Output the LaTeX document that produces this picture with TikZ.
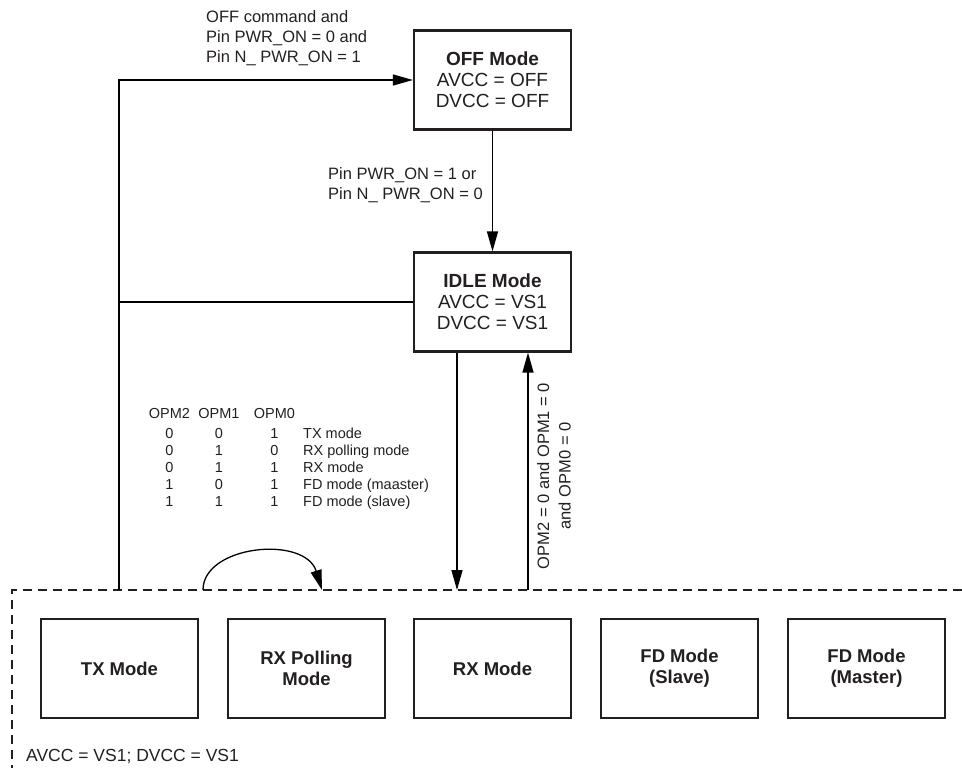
\documentclass[tikz,border=0pt]{standalone}
\usepackage{fontspec}
\setmainfont{Liberation Sans}
\usetikzlibrary{arrows.meta}
\definecolor{ink}{HTML}{231F20}
\begin{document}
\begin{tikzpicture}[x=1pt,y=-1pt,
  modebox/.style={draw=ink, line width=2.2pt, minimum width=157pt, minimum height=99pt, inner sep=0pt, align=center, text=ink, font=\fontsize{19}{21}\selectfont},
  subbox/.style={draw=ink, line width=2.2pt, minimum width=157pt, minimum height=99pt, inner sep=0pt, align=center, text=ink, font=\fontsize{18.5}{21}\selectfont\bfseries},
  conn/.style={line width=1.3pt, draw=black},
  arr/.style={conn, -{Triangle[length=20pt,width=11pt]}},
  lbl/.style={font=\fontsize{16.5}{20}\selectfont, align=left, inner sep=0pt, text=ink},
  tbl/.style={font=\fontsize{14.5}{17}\selectfont, inner sep=0pt, anchor=north, align=center, text=ink},
  frame/.style={line width=1.4pt, draw=ink, dash pattern=on 9pt off 6pt}
]
\useasboundingbox (0,0) rectangle (962,768);

% top mode boxes
\node[modebox] (off) at (492.5,80) {\textbf{OFF Mode}\\AVCC = OFF\\DVCC = OFF};
\node[modebox] (idle) at (492.5,302) {\textbf{IDLE Mode}\\AVCC = VS1\\DVCC = VS1};

% dashed frame
\coordinate (fr) at (962,590);
\coordinate (fc) at (12,590);
\coordinate (fb) at (12,768);
\draw[frame] (fr) -- (fc) -- (fb);

% sub-mode boxes
\node[subbox] (tx) at (119.5,668.5) {TX Mode};
\node[subbox] (rxp) at (306.5,668.5) {RX Polling\\Mode};
\node[subbox] (rx) at (492.5,668.5) {RX Mode};
\node[subbox] (fds) at (679.5,668.5) {FD Mode\\(Slave)};
\node[subbox] (fdm) at (866.5,668.5) {FD Mode\\(Master)};

\node[lbl, font=\fontsize{17.5}{20}\selectfont, anchor=west] (vs) at (26,757) {AVCC = VS1; DVCC = VS1};

% connectors
\coordinate (l1) at (119,590);
\draw[arr] (l1) |- (off.west);
\draw[conn] (idle.west) -- (idle.west -| l1);
\draw[arr] (off.south) -- (idle.north);

\coordinate (d1) at (457,590);
\draw[arr] (idle.south -| d1) -- (d1);
\coordinate (u1) at (528,590);
\draw[arr] (u1) -- (idle.south -| u1);

\coordinate (cs) at (203,590);
\coordinate (ce) at (322,590);
\draw[arr] (cs) .. controls (203,545) and (305,535) .. (ce);

% labels
\node[lbl, anchor=west] (offlbl) at (206,38) {OFF command and\\Pin PWR\_ON = 0 and\\Pin N\_ PWR\_ON = 1};
\node[lbl, anchor=west] (onlbl) at (328,185) {Pin PWR\_ON = 1 or\\Pin N\_ PWR\_ON = 0};
\node[lbl, align=center, rotate=90, font=\fontsize{16.5}{21.5}\selectfont] (opmlbl) at (554,476) {OPM2 = 0 and OPM1 = 0\\and OPM0 = 0};

% table
\node[tbl] (t2) at (169.5,408) {OPM2\\[3pt]0\\0\\0\\1\\1};
\node[tbl] (t1) at (219,408) {OPM1\\[3pt]0\\1\\1\\0\\1};
\node[tbl] (t0) at (274.5,408) {OPM0\\[3pt]1\\0\\1\\1\\1};
\node[tbl, anchor=north west, align=left] (tm) at (303,408) {\phantom{O}\\[3pt]TX mode\\RX polling mode\\RX mode\\FD mode (maaster)\\FD mode (slave)};
\end{tikzpicture}
\end{document}
